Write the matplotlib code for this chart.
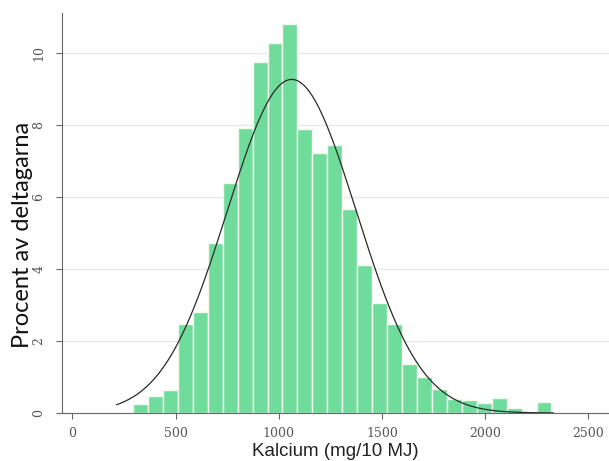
import numpy as np
import matplotlib
matplotlib.use("Agg")
import matplotlib.pyplot as plt

# histogram bins (mg/10 MJ) and percentages
bin_start = 294
bin_width = 72.4
percent = [0.26, 0.47, 0.65, 2.48, 2.81, 4.71, 6.38, 7.91, 9.74, 10.27,
           10.8, 7.89, 7.21, 7.44, 5.67, 4.11, 3.05, 2.47, 1.35, 1.01,
           0.66, 0.38, 0.36, 0.27, 0.42, 0.15, 0.0, 0.31]

# fitted normal curve
mean_ca = 1063
sd_ca = 312
curve_min, curve_max = 215, 2330

x_ticks = [0, 500, 1000, 1500, 2000, 2500]
y_ticks = [0, 2, 4, 6, 8, 10]

fig = plt.figure(figsize=(6.09, 4.61), dpi=100)
ax = fig.add_axes([62 / 609, 48 / 461, 1 - 62 / 609, 400 / 461])

lefts = bin_start + bin_width * np.arange(len(percent))
ax.bar(lefts, percent, width=bin_width, align="edge",
       color="#6fdc9c", edgecolor="#f4f8ee", linewidth=1.0, zorder=2)

xs = np.linspace(curve_min, curve_max, 400)
ys = 100 * bin_width * np.exp(-0.5 * ((xs - mean_ca) / sd_ca) ** 2) / (sd_ca * np.sqrt(2 * np.pi))
ax.plot(xs, ys, color="#2a2a2a", lw=0.9, zorder=3)

ax.set_xlim(-50, 2600)
ax.set_ylim(0, 11.1)
ax.set_xticks(x_ticks)
ax.set_yticks(y_ticks)
ax.set_xticklabels([str(t) for t in x_ticks], family="DejaVu Serif",
                   fontsize=9, color="#555555")
ax.set_yticklabels([str(t) for t in y_ticks], family="DejaVu Serif",
                   fontsize=9, color="#555555", rotation=90, va="center")
ax.tick_params(axis="both", color="#666666", length=4, width=0.8)
ax.tick_params(axis="x", pad=6)
ax.tick_params(axis="y", pad=8)

for t in y_ticks[1:]:
    ax.axhline(t, color="#e8e8e8", lw=1.0, zorder=1)

for s in ["top", "right"]:
    ax.spines[s].set_visible(False)
for s in ["left", "bottom"]:
    ax.spines[s].set_color("#666666")
    ax.spines[s].set_linewidth(0.8)

ax.set_xlabel("Kalcium (mg/10 MJ)", family="Liberation Sans", fontsize=13.5,
              color="#222222", labelpad=2)
ax.set_ylabel("Procent av deltagarna", family="Lato", fontsize=17,
              color="#111111")
ax.yaxis.set_label_coords(-0.053, 0.445)

fig.savefig("out.png", dpi=100)
